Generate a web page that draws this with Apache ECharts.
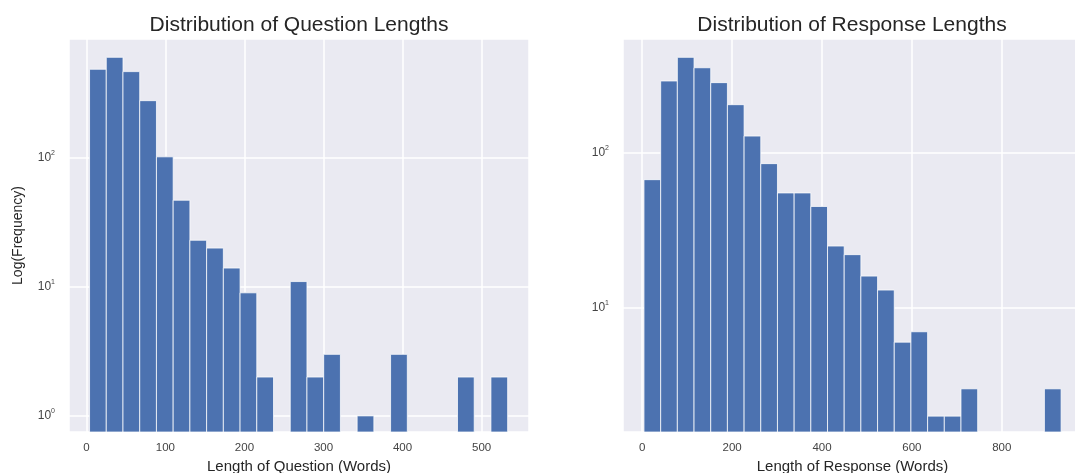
<!DOCTYPE html>
<html>
<head>
<meta charset="utf-8">
<script src="https://cdn.jsdelivr.net/npm/echarts@6/dist/echarts.min.js"></script>
<style>html,body{margin:0;padding:0;background:#fff;}#c{width:1075px;height:473px;}</style>
</head>
<body>
<div id="c"></div>
<script>
// ---- data ----
var binCount = 25;
var questionRange = [4, 533];          // min / max question length (words)
var questionCounts = [487, 603, 467, 278, 102, 47, 23, 20, 14, 9, 2, 0, 11, 2, 3, 0, 1, 0, 3, 0, 0, 0, 2, 0, 2];
var responseRange = [4, 932];          // min / max response length (words)
var responseCounts = [67, 290, 412, 353, 283, 204, 128, 85, 55, 55, 45, 25, 22, 16, 13, 6, 7, 2, 2, 3, 0, 0, 0, 0, 3];
var titles = ['Distribution of Question Lengths', 'Distribution of Response Lengths'];
var xNames = ['Length of Question (Words)', 'Length of Response (Words)'];
var yName = 'Log(Frequency)';

// ---- build histogram rows [x0, x1, count] ----
function bins(range, counts) {
  var w = (range[1] - range[0]) / binCount, out = [];
  for (var i = 0; i < counts.length; i++) {
    if (counts[i] > 0) out.push([range[0] + i * w, range[0] + (i + 1) * w, counts[i]]);
  }
  return out;
}

var FONT = '"Liberation Sans", Arial, sans-serif';
var TXT = '#262626';
var LBL = '#444444';
var yMins = [0.75, 1.58];

function makeRender(base) {
  return function (params, api) {
    var p0 = api.coord([api.value(0), api.value(2)]);
    var p1 = api.coord([api.value(1), base]);
    return {
      type: 'rect',
      shape: { x: p0[0], y: p0[1], width: p1[0] - p0[0], height: p1[1] - p0[1] },
      style: { fill: '#4c72b0', stroke: 'rgba(255,255,255,0.75)', lineWidth: 1 }
    };
  };
}

function yLabel(v) {
  var e = Math.log10(v);
  if (Math.abs(e - Math.round(e)) > 1e-6) return '';
  return '{b|10}{s|' + Math.round(e) + '}';
}

var chart = echarts.init(document.getElementById('c'));
chart.setOption({
  animation: false,
  backgroundColor: '#ffffff',
  graphic: [
    { type: 'text', x: 299, y: 25, style: { text: titles[0], font: '21px ' + FONT, fill: TXT, textAlign: 'center', textVerticalAlign: 'middle' } },
    { type: 'text', x: 852, y: 25, style: { text: titles[1], font: '21px ' + FONT, fill: TXT, textAlign: 'center', textVerticalAlign: 'middle' } }
  ],
  grid: [
    { left: 69, right: 546, top: 39, bottom: 41, show: true, backgroundColor: '#eaeaf2', borderWidth: 0, containLabel: false, outerBoundsMode: 'none' },
    { left: 623, right: -7, top: 39, bottom: 41, show: true, backgroundColor: '#eaeaf2', borderWidth: 0, containLabel: false, outerBoundsMode: 'none' }
  ],
  xAxis: [0, 1].map(function (i) {
    return {
      type: 'value', gridIndex: i,
      min: i === 0 ? -22 : -42.7, max: i === 0 ? 560 : 978.5,
      splitNumber: 5,
      name: xNames[i], nameLocation: 'middle', nameGap: 23,
      nameTextStyle: { fontFamily: FONT, fontSize: 15, color: TXT },
      axisLine: { show: false }, axisTick: { show: false },
      axisLabel: { showMinLabel: false, showMaxLabel: false, margin: 10, fontFamily: FONT, fontSize: 11.5, color: LBL },
      splitLine: { show: true, lineStyle: { color: '#ffffff', width: 1.5 } }
    };
  }),
  yAxis: [0, 1].map(function (i) {
    return {
      type: 'log', logBase: 10, gridIndex: i,
      min: yMins[i], max: i === 0 ? 836 : 541,
      name: i === 0 ? yName : '', nameLocation: 'middle', nameGap: 44,
      nameTextStyle: { fontFamily: FONT, fontSize: 14, color: TXT },
      axisLine: { show: false }, axisTick: { show: false },
      axisLabel: {
        margin: 14, formatter: yLabel,
        rich: {
          b: { fontFamily: FONT, fontSize: 12, color: LBL, lineHeight: 16 },
          s: { fontFamily: FONT, fontSize: 7, color: LBL, verticalAlign: 'top', lineHeight: 10 }
        }
      },
      splitLine: { show: true, lineStyle: { color: '#ffffff', width: 1.5 } },
      minorSplitLine: { show: false }
    };
  }),
  series: [
    { type: 'custom', xAxisIndex: 0, yAxisIndex: 0, renderItem: makeRender(yMins[0]), encode: { x: [0, 1], y: 2 }, data: bins(questionRange, questionCounts), clip: true },
    { type: 'custom', xAxisIndex: 1, yAxisIndex: 1, renderItem: makeRender(yMins[1]), encode: { x: [0, 1], y: 2 }, data: bins(responseRange, responseCounts), clip: true }
  ]
});
</script>
</body>
</html>
